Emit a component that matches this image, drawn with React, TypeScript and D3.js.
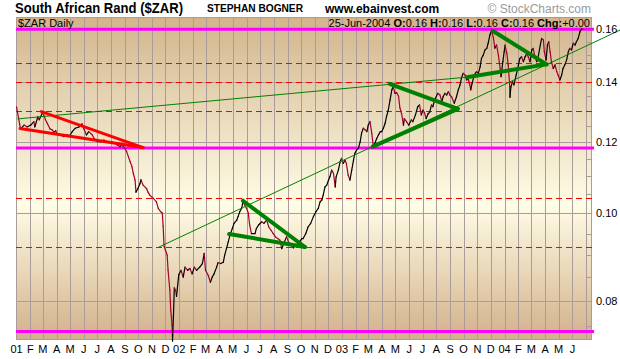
import React, { useEffect, useRef } from 'react';
import * as d3 from 'd3';

// Daily closes of $ZAR (USD per rand)
const zarCloses: [string, number][] = [
  ['2001-01-01', 0.1313], ['2001-01-08', 0.1257], ['2001-01-10', 0.1241], ['2001-01-18', 0.1253],
  ['2001-01-25', 0.1247], ['2001-02-02', 0.1253], ['2001-02-09', 0.1264], ['2001-02-11', 0.1247],
  ['2001-02-18', 0.1280], ['2001-02-21', 0.1270], ['2001-02-28', 0.1292], ['2001-03-03', 0.1286],
  ['2001-03-07', 0.1270], ['2001-03-11', 0.1259], ['2001-03-17', 0.1241], ['2001-03-22', 0.1238],
  ['2001-03-26', 0.1230], ['2001-03-30', 0.1235], ['2001-04-02', 0.1225], ['2001-04-10', 0.1222],
  ['2001-04-17', 0.1217], ['2001-04-25', 0.1222], ['2001-04-29', 0.1217], ['2001-05-06', 0.1232],
  ['2001-05-13', 0.1243], ['2001-05-21', 0.1247], ['2001-05-28', 0.1257], ['2001-06-01', 0.1241],
  ['2001-06-07', 0.1222], ['2001-06-12', 0.1232], ['2001-06-20', 0.1222], ['2001-06-24', 0.1211],
  ['2001-07-01', 0.1201], ['2001-07-09', 0.1201], ['2001-07-16', 0.1206], ['2001-07-24', 0.1201],
  ['2001-07-31', 0.1201], ['2001-08-08', 0.1198], ['2001-08-15', 0.1191], ['2001-08-21', 0.1186],
  ['2001-08-25', 0.1191], ['2001-09-01', 0.1181], ['2001-09-05', 0.1171], ['2001-09-09', 0.1156],
  ['2001-09-13', 0.1141], ['2001-09-17', 0.1127], ['2001-09-20', 0.1108], ['2001-09-24', 0.1089],
  ['2001-09-26', 0.1056], ['2001-09-30', 0.1065], ['2001-10-05', 0.1079], ['2001-10-07', 0.1090],
  ['2001-10-12', 0.1075], ['2001-10-20', 0.1065], ['2001-10-23', 0.1056], ['2001-10-27', 0.1048],
  ['2001-11-04', 0.1039], ['2001-11-11', 0.1030], ['2001-11-15', 0.1013], ['2001-11-20', 0.1005],
  ['2001-11-24', 0.1001], ['2001-11-26', 0.0968], ['2001-11-28', 0.0920], ['2001-12-01', 0.0911],
  ['2001-12-05', 0.0899], ['2001-12-07', 0.0865], ['2001-12-11', 0.0822], ['2001-12-13', 0.0781],
  ['2001-12-16', 0.0752], ['2001-12-17', 0.0722], ['2001-12-19', 0.0768], ['2001-12-21', 0.0827],
  ['2001-12-24', 0.0822], ['2001-12-26', 0.0809], ['2001-12-28', 0.0827], ['2001-12-31', 0.0855],
  ['2002-01-05', 0.0865], ['2002-01-10', 0.0850], ['2002-01-14', 0.0872], ['2002-01-20', 0.0865],
  ['2002-01-25', 0.0869], ['2002-01-30', 0.0857], ['2002-02-04', 0.0872], ['2002-02-09', 0.0865],
  ['2002-02-16', 0.0872], ['2002-02-22', 0.0880], ['2002-02-26', 0.0903], ['2002-03-01', 0.0865],
  ['2002-03-07', 0.0854], ['2002-03-12', 0.0839], ['2002-03-16', 0.0850], ['2002-03-20', 0.0857],
  ['2002-03-26', 0.0872], ['2002-03-29', 0.0882], ['2002-04-04', 0.0880], ['2002-04-10', 0.0883],
  ['2002-04-13', 0.0899], ['2002-04-17', 0.0914], ['2002-04-21', 0.0930], ['2002-04-25', 0.0946],
  ['2002-04-30', 0.0962], ['2002-05-04', 0.0975], ['2002-05-10', 0.0983], ['2002-05-13', 0.0992],
  ['2002-05-17', 0.1005], ['2002-05-21', 0.1013], ['2002-05-24', 0.1030], ['2002-05-28', 0.1022],
  ['2002-06-01', 0.1013], ['2002-06-05', 0.1001], ['2002-06-08', 0.0971], ['2002-06-12', 0.0950],
  ['2002-06-20', 0.0950], ['2002-06-23', 0.0962], ['2002-06-28', 0.0971], ['2002-07-05', 0.0979],
  ['2002-07-10', 0.0975], ['2002-07-16', 0.0983], ['2002-07-21', 0.0966], ['2002-07-26', 0.0958],
  ['2002-07-31', 0.0950], ['2002-08-05', 0.0942], ['2002-08-10', 0.0938], ['2002-08-15', 0.0934],
  ['2002-08-19', 0.0914], ['2002-08-25', 0.0930], ['2002-08-30', 0.0942], ['2002-09-03', 0.0930],
  ['2002-09-09', 0.0922], ['2002-09-14', 0.0916], ['2002-09-19', 0.0922], ['2002-09-25', 0.0926],
  ['2002-10-03', 0.0938], ['2002-10-06', 0.0938], ['2002-10-12', 0.0950], ['2002-10-17', 0.0966],
  ['2002-10-23', 0.0975], ['2002-10-29', 0.0992], ['2002-11-04', 0.1005], ['2002-11-09', 0.1013],
  ['2002-11-13', 0.1030], ['2002-11-17', 0.1035], ['2002-11-20', 0.1048], ['2002-11-24', 0.1070],
  ['2002-11-28', 0.1075], ['2002-12-02', 0.1089], ['2002-12-05', 0.1098], ['2002-12-09', 0.1117],
  ['2002-12-13', 0.1108], ['2002-12-17', 0.1070], ['2002-12-19', 0.1098], ['2002-12-24', 0.1117],
  ['2002-12-28', 0.1141], ['2002-12-31', 0.1151], ['2003-01-04', 0.1136], ['2003-01-08', 0.1146],
  ['2003-01-11', 0.1136], ['2003-01-15', 0.1103], ['2003-01-19', 0.1089], ['2003-01-23', 0.1117],
  ['2003-01-27', 0.1146], ['2003-01-30', 0.1166], ['2003-02-03', 0.1176], ['2003-02-07', 0.1181],
  ['2003-02-11', 0.1201], ['2003-02-14', 0.1227], ['2003-02-18', 0.1243], ['2003-02-22', 0.1238],
  ['2003-02-26', 0.1232], ['2003-03-01', 0.1253], ['2003-03-05', 0.1264], ['2003-03-09', 0.1227],
  ['2003-03-12', 0.1191], ['2003-03-16', 0.1196], ['2003-03-20', 0.1211], ['2003-03-24', 0.1222],
  ['2003-03-28', 0.1232], ['2003-03-31', 0.1232], ['2003-04-04', 0.1243], ['2003-04-08', 0.1259],
  ['2003-04-11', 0.1280], ['2003-04-15', 0.1302], ['2003-04-19', 0.1336], ['2003-04-23', 0.1371],
  ['2003-04-26', 0.1382], ['2003-04-30', 0.1359], ['2003-05-04', 0.1361], ['2003-05-08', 0.1349],
  ['2003-05-11', 0.1310], ['2003-05-15', 0.1289], ['2003-05-19', 0.1253], ['2003-05-21', 0.1274],
  ['2003-05-26', 0.1264], ['2003-05-31', 0.1253], ['2003-06-06', 0.1270], ['2003-06-09', 0.1264],
  ['2003-06-15', 0.1286], ['2003-06-20', 0.1313], ['2003-06-24', 0.1319], ['2003-06-28', 0.1286],
  ['2003-07-02', 0.1302], ['2003-07-05', 0.1294], ['2003-07-09', 0.1274], ['2003-07-13', 0.1289],
  ['2003-07-17', 0.1295], ['2003-07-21', 0.1319], ['2003-07-24', 0.1313], ['2003-07-28', 0.1336],
  ['2003-08-04', 0.1359], ['2003-08-09', 0.1353], ['2003-08-13', 0.1330], ['2003-08-16', 0.1347],
  ['2003-08-20', 0.1359], ['2003-08-24', 0.1353], ['2003-08-28', 0.1365], ['2003-08-31', 0.1353],
  ['2003-09-04', 0.1347], ['2003-09-10', 0.1325], ['2003-09-15', 0.1347], ['2003-09-19', 0.1371],
  ['2003-09-23', 0.1388], ['2003-09-26', 0.1412], ['2003-09-30', 0.1430], ['2003-10-04', 0.1424],
  ['2003-10-08', 0.1406], ['2003-10-11', 0.1412], ['2003-10-15', 0.1388], ['2003-10-17', 0.1371],
  ['2003-10-20', 0.1394], ['2003-10-25', 0.1424], ['2003-10-30', 0.1436], ['2003-11-03', 0.1430],
  ['2003-11-07', 0.1454], ['2003-11-10', 0.1485], ['2003-11-14', 0.1498], ['2003-11-18', 0.1518],
  ['2003-11-22', 0.1524], ['2003-11-25', 0.1544], ['2003-11-29', 0.1577], ['2003-12-03', 0.1597],
  ['2003-12-07', 0.1563], ['2003-12-10', 0.1525], ['2003-12-14', 0.1537], ['2003-12-18', 0.1498],
  ['2003-12-22', 0.1448], ['2003-12-24', 0.1418], ['2003-12-28', 0.1473], ['2003-12-31', 0.1511],
  ['2004-01-02', 0.1537], ['2004-01-06', 0.1505], ['2004-01-09', 0.1461], ['2004-01-12', 0.1394],
  ['2004-01-13', 0.1345], ['2004-01-15', 0.1381], ['2004-01-19', 0.1400], ['2004-01-22', 0.1388],
  ['2004-01-27', 0.1424], ['2004-02-01', 0.1461], ['2004-02-04', 0.1485], ['2004-02-08', 0.1492],
  ['2004-02-12', 0.1473], ['2004-02-16', 0.1492], ['2004-02-20', 0.1505], ['2004-02-23', 0.1492],
  ['2004-02-27', 0.1473], ['2004-03-02', 0.1518], ['2004-03-05', 0.1524], ['2004-03-09', 0.1492],
  ['2004-03-13', 0.1473], ['2004-03-17', 0.1498], ['2004-03-21', 0.1537], ['2004-03-24', 0.1563],
  ['2004-03-28', 0.1557], ['2004-03-30', 0.1511], ['2004-04-03', 0.1479], ['2004-04-06', 0.1537],
  ['2004-04-09', 0.1550], ['2004-04-12', 0.1511], ['2004-04-15', 0.1473], ['2004-04-19', 0.1448],
  ['2004-04-23', 0.1461], ['2004-04-27', 0.1436], ['2004-04-30', 0.1424], ['2004-05-04', 0.1406],
  ['2004-05-08', 0.1424], ['2004-05-11', 0.1448], ['2004-05-15', 0.1461], ['2004-05-19', 0.1479],
  ['2004-05-23', 0.1511], ['2004-05-26', 0.1524], ['2004-05-30', 0.1518], ['2004-06-03', 0.1544],
  ['2004-06-07', 0.1537], ['2004-06-10', 0.1550], ['2004-06-14', 0.1563], ['2004-06-18', 0.1590],
  ['2004-06-22', 0.1603], ['2004-06-25', 0.1600]
];

// horizontal support / resistance levels
const magentaLevels = [0.16, 0.1182, 0.074];
const dashedLevels = [0.1467, 0.14, 0.13, 0.1039, 0.0918];

// price axis
const priceTicks = [0.08, 0.10, 0.12, 0.14, 0.16];
const minorTicks = [0.075, 0.08, 0.085, 0.09, 0.095, 0.10, 0.105, 0.11, 0.115, 0.12, 0.125, 0.13, 0.135, 0.14, 0.145, 0.15, 0.155, 0.16];
const monthLetters = ['J', 'F', 'M', 'A', 'M', 'J', 'J', 'A', 'S', 'O', 'N', 'D'];

type Seg = { from: [string, number]; to: [string, number] };

const redPennant: Seg[] = [
  { from: ['2001-02-26', 0.1297], to: ['2001-10-12', 0.1183] },
  { from: ['2001-01-09', 0.1242], to: ['2001-10-12', 0.1183] }
];

const thinTrends: Seg[] = [
  { from: ['2001-01-04', 0.1273], to: ['2003-10-08', 0.1416] },
  { from: ['2001-11-15', 0.0917], to: ['2004-09-16', 0.1597] }
];

const greenPatterns: Seg[] = [
  { from: ['2002-05-24', 0.1033], to: ['2002-10-10', 0.0918] },
  { from: ['2002-04-23', 0.0949], to: ['2002-10-10', 0.0918] },
  { from: ['2003-04-18', 0.1392], to: ['2003-09-18', 0.1306] },
  { from: ['2003-03-11', 0.1186], to: ['2003-09-18', 0.1306] },
  { from: ['2003-12-06', 0.1593], to: ['2004-04-04', 0.1463] },
  { from: ['2003-10-08', 0.1416], to: ['2004-04-04', 0.1463] }
];

const width = 620;
const height = 359;
const font = 'Arial, "Liberation Sans", sans-serif';

export default function App() {
  const svgRef = useRef<SVGSVGElement>(null);

  useEffect(() => {
    if (!svgRef.current) return;
    const svg = d3.select(svgRef.current);
    svg.selectAll('*').remove();

    const plot = { left: 16, right: 592, top: 17, bottom: 340 };
    const parse = d3.timeParse('%Y-%m-%d');

    const x = d3.scaleTime()
      .domain([new Date(2001, 0, 1), new Date(2004, 6, 15)])
      .range([plot.left + 0.5, plot.right]);
    const y = d3.scaleLog()
      .domain([0.0724, 0.1651])
      .range([plot.bottom, plot.top]);

    const gridColor = '#ab9c9c';

    // background gradient
    const grad = svg.append('defs').append('linearGradient')
      .attr('id', 'bg')
      .attr('x1', 0).attr('y1', 0).attr('x2', 0).attr('y2', 1);
    grad.append('stop').attr('offset', '0%').attr('stop-color', '#d2b48c');
    grad.append('stop').attr('offset', '58%').attr('stop-color', '#fffde6');
    grad.append('stop').attr('offset', '100%').attr('stop-color', '#d2b08a');

    svg.append('rect')
      .attr('x', plot.left)
      .attr('y', plot.top)
      .attr('width', plot.right - plot.left)
      .attr('height', plot.bottom - plot.top)
      .attr('fill', 'url(#bg)');

    // monthly grid
    const months = d3.timeMonth.range(new Date(2001, 0, 1), new Date(2004, 6, 2));
    svg.append('g')
      .selectAll('line')
      .data(months.slice(1))
      .enter().append('line')
      .attr('x1', d => Math.round(x(d)) + 0.5)
      .attr('x2', d => Math.round(x(d)) + 0.5)
      .attr('y1', plot.top)
      .attr('y2', plot.bottom)
      .attr('stroke', gridColor)
      .attr('stroke-width', 1);

    svg.append('g')
      .selectAll('line')
      .data(priceTicks)
      .enter().append('line')
      .attr('x1', plot.left)
      .attr('x2', plot.right)
      .attr('y1', d => Math.round(y(d)) + 0.5)
      .attr('y2', d => Math.round(y(d)) + 0.5)
      .attr('stroke', gridColor);

    // minor ticks on the right edge
    svg.append('g')
      .selectAll('line')
      .data(minorTicks)
      .enter().append('line')
      .attr('x1', plot.right - 6)
      .attr('x2', plot.right)
      .attr('y1', d => Math.round(y(d)) + 0.5)
      .attr('y2', d => Math.round(y(d)) + 0.5)
      .attr('stroke', gridColor);

    // frame
    svg.append('rect')
      .attr('x', plot.left + 0.5)
      .attr('y', plot.top + 0.5)
      .attr('width', plot.right - plot.left - 1)
      .attr('height', plot.bottom - plot.top - 1)
      .attr('fill', 'none')
      .attr('stroke', gridColor);

    // dashed red levels
    svg.append('g')
      .selectAll('line')
      .data(dashedLevels)
      .enter().append('line')
      .attr('x1', plot.left)
      .attr('x2', plot.right)
      .attr('y1', d => Math.round(y(d)) + 0.5)
      .attr('y2', d => Math.round(y(d)) + 0.5)
      .attr('stroke', '#ff0000')
      .attr('stroke-width', 1)
      .attr('stroke-dasharray', '6,4');

    // magenta levels
    svg.append('g')
      .selectAll('line')
      .data(magentaLevels)
      .enter().append('line')
      .attr('x1', plot.left)
      .attr('x2', plot.right + 2)
      .attr('y1', d => y(d))
      .attr('y2', d => y(d))
      .attr('stroke', '#ff00ff')
      .attr('stroke-width', 3);

    // price: black when up, crimson when down
    const pts = zarCloses.map(([d, v]) => ({ date: parse(d) as Date, v }));
    svg.append('g')
      .selectAll('line')
      .data(pts.slice(1))
      .enter().append('line')
      .attr('x1', (d, i) => x(pts[i].date))
      .attr('y1', (d, i) => y(pts[i].v))
      .attr('x2', d => x(d.date))
      .attr('y2', d => y(d.v))
      .attr('stroke', (d, i) => (d.v >= pts[i].v ? '#000000' : '#a3002d'))
      .attr('stroke-width', 1.2)
      .attr('stroke-linecap', 'round');

    // drawn trend lines
    const drawSegs = (segs: Seg[], color: string, w: number) => {
      svg.append('g')
        .selectAll('line')
        .data(segs)
        .enter().append('line')
        .attr('x1', d => x(parse(d.from[0]) as Date))
        .attr('y1', d => y(d.from[1]))
        .attr('x2', d => x(parse(d.to[0]) as Date))
        .attr('y2', d => y(d.to[1]))
        .attr('stroke', color)
        .attr('stroke-width', w)
        .attr('stroke-linecap', 'round');
    };
    drawSegs(thinTrends, '#008000', 1);
    drawSegs(redPennant, '#ff0000', 3);
    drawSegs(greenPatterns, '#008000', 4);

    // price labels
    svg.append('g')
      .selectAll('text')
      .data(priceTicks)
      .enter().append('text')
      .attr('x', 596)
      .attr('y', d => y(d))
      .attr('dy', '0.36em')
      .style('font-family', font)
      .style('font-size', '11px')
      .attr('fill', '#000')
      .text(d => d.toFixed(2));

    // month labels
    const labelMonths = d3.timeMonth.range(new Date(2001, 0, 1), new Date(2004, 5, 2));
    svg.append('g')
      .selectAll('text')
      .data(labelMonths)
      .enter().append('text')
      .attr('x', d => x(d))
      .attr('y', 353)
      .attr('text-anchor', 'middle')
      .style('font-family', font)
      .style('font-size', '11px')
      .attr('fill', '#000')
      .text(d => (d.getMonth() === 0 ? d3.timeFormat('%y')(d) : monthLetters[d.getMonth()]));

    // header
    svg.append('text')
      .attr('x', 15).attr('y', 13)
      .attr('textLength', 168)
      .attr('lengthAdjust', 'spacingAndGlyphs')
      .style('font-family', font).style('font-size', '14px').style('font-weight', 'bold')
      .text('South African Rand ($ZAR)');

    svg.append('text')
      .attr('x', 207).attr('y', 12)
      .attr('textLength', 96)
      .attr('lengthAdjust', 'spacingAndGlyphs')
      .style('font-family', font).style('font-size', '11px').style('font-weight', 'bold')
      .text('STEPHAN BOGNER');

    svg.append('text')
      .attr('x', 325).attr('y', 13)
      .style('font-family', font).style('font-size', '12px').style('font-weight', 'bold')
      .text('www.ebainvest.com');

    svg.append('text')
      .attr('x', 591).attr('y', 13)
      .attr('text-anchor', 'end')
      .style('font-family', font).style('font-size', '12px')
      .attr('fill', '#9a9a9a')
      .text('\u00a9 StockCharts.com');

    svg.append('text')
      .attr('x', 18).attr('y', 27)
      .style('font-family', font).style('font-size', '11px')
      .text('$ZAR Daily');

    const info = svg.append('text')
      .attr('x', 590).attr('y', 27)
      .attr('text-anchor', 'end')
      .style('font-family', font).style('font-size', '11px');
    const last = zarCloses[zarCloses.length - 1];
    const parts: [string, boolean][] = [
      [d3.timeFormat('%d-%b-%Y')(parse(last[0]) as Date) + ' ', false],
      ['O:', true], [last[1].toFixed(2) + ' ', false],
      ['H:', true], [last[1].toFixed(2) + ' ', false],
      ['L:', true], [last[1].toFixed(2) + ' ', false],
      ['C:', true], [last[1].toFixed(2) + ' ', false],
      ['Chg:', true], ['+0.00', false]
    ];
    parts.forEach(([t, b]) => {
      info.append('tspan').style('font-weight', b ? 'bold' : 'normal').text(t);
    });
  }, []);

  return (
    <svg
      ref={svgRef}
      width={width}
      height={height}
      style={{ position: 'absolute', left: 0, top: 0, background: '#ffffff' }}
    />
  );
}
